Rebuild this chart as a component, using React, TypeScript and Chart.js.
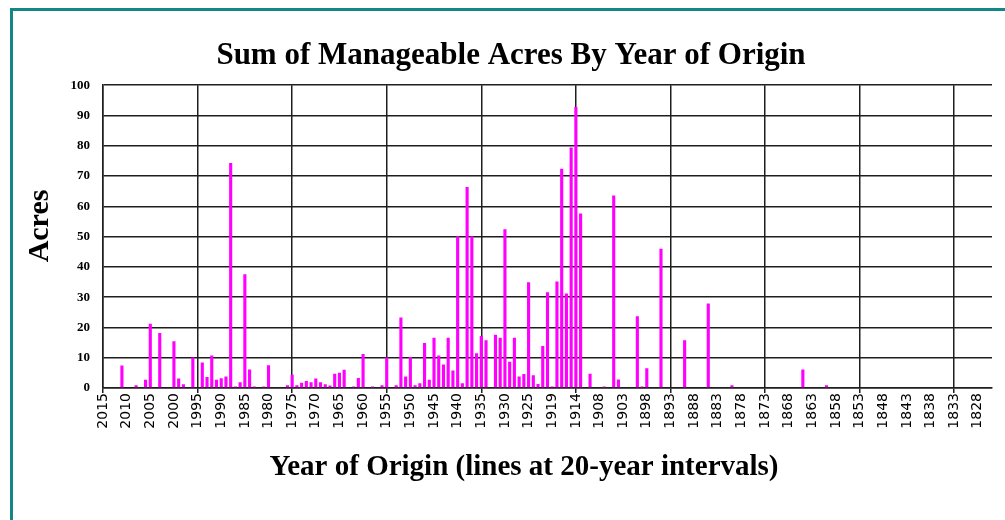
import React, { useEffect, useRef } from "react";
import { Chart, registerables } from "chart.js";

Chart.register(...registerables);

const TITLE = "Sum of Manageable Acres By Year of Origin";
const X_TITLE = "Year of Origin (lines at 20-year intervals)";
const Y_TITLE = "Acres";

// Category axis: years from newest to oldest (years with no category are listed separately)
const FIRST_YEAR = 2015;
const LAST_YEAR = 1825;
const MISSING_YEARS = [1920, 1909];

// Bars (years that have a value)
const BAR_YEARS = [
  2011, 2008, 2006, 2005, 2003, 2000, 1999, 1998, 1996, 1994,
  1993, 1992, 1991, 1990, 1989, 1988, 1987, 1986, 1985, 1984,
  1983, 1981, 1980, 1976, 1975, 1974, 1973, 1972, 1971, 1970,
  1969, 1968, 1967, 1966, 1965, 1964, 1962, 1961, 1960, 1958,
  1956, 1955, 1953, 1952, 1951, 1950, 1949, 1948, 1947, 1946,
  1945, 1944, 1943, 1942, 1941, 1940, 1939, 1938, 1937, 1936,
  1935, 1934, 1932, 1931, 1930, 1929, 1928, 1927, 1926, 1925,
  1924, 1923, 1922, 1921, 1919, 1918, 1917, 1916, 1915, 1914,
  1913, 1911, 1907, 1905, 1904, 1900, 1899, 1898, 1895, 1890,
  1885, 1880, 1865, 1860,
];
const BAR_VALUES = [
  7.4, 0.9, 2.7, 21.2, 18.2, 15.4, 3.1, 1.2, 10.1, 8.4,
  3.6, 10.7, 2.7, 3.2, 3.8, 74.3, 0.5, 1.9, 37.6, 6.1,
  0.5, 0.5, 7.5, 0.9, 4.4, 0.9, 1.7, 2.3, 1.9, 3.1,
  1.9, 1.2, 0.8, 4.7, 5.0, 6.0, 0.5, 3.3, 11.2, 0.5,
  0.9, 10.1, 0.9, 23.3, 3.8, 10.2, 0.9, 1.6, 14.9, 2.7,
  16.6, 10.7, 7.8, 16.6, 5.8, 50.1, 1.6, 66.4, 50.1, 11.5,
  17.2, 15.8, 17.6, 16.6, 52.4, 8.7, 16.6, 3.8, 4.6, 34.9,
  4.2, 1.3, 13.9, 31.6, 0.5, 35.2, 72.4, 31.2, 79.4, 92.8,
  57.6, 4.7, 0.5, 63.6, 2.8, 23.7, 0.5, 6.5, 46.0, 15.8,
  27.9, 0.9, 6.1, 0.9,
];

const Y_MIN = 0;
const Y_MAX = 100;
const Y_STEP = 10;
const LABEL_EVERY = 5;
const GRID_EVERY = 20;

const YEARS: number[] = [];
for (let y = FIRST_YEAR; y >= LAST_YEAR; y--) {
  if (!MISSING_YEARS.includes(y)) YEARS.push(y);
}
const VALUES = YEARS.map((y) => {
  const i = BAR_YEARS.indexOf(y);
  return i >= 0 ? BAR_VALUES[i] : null;
});

const SERIF = "'Liberation Serif', 'Times New Roman', serif";

const axisTitlesPlugin = {
  id: "axisTitlesText",
  afterDraw(chart: any) {
    const { ctx } = chart;
    ctx.save();
    ctx.fillStyle = "#000";
    ctx.textAlign = "center";
    ctx.textBaseline = "middle";
    ctx.font = `bold 29px ${SERIF}`;
    ctx.fillText(X_TITLE, 524, 468);
    ctx.translate(40, 226);
    ctx.rotate(-Math.PI / 2);
    ctx.font = `bold 30px ${SERIF}`;
    ctx.fillText(Y_TITLE, 0, 0);
    ctx.restore();
  },
};

export default function App() {
  const ref = useRef<HTMLCanvasElement | null>(null);

  useEffect(() => {
    if (!ref.current) return;
    const gridCol = (ctx: any) =>
      ctx.index % GRID_EVERY === 0 ? "#1e1e1e" : "rgba(0,0,0,0)";
    const chart = new Chart(ref.current, {
      type: "bar",
      data: {
        labels: YEARS.map(String),
        datasets: [
          {
            data: VALUES as any,
            backgroundColor: "#FF00FF",
            borderWidth: 0,
            barPercentage: 0.66,
            categoryPercentage: 1,
          },
        ],
      },
      plugins: [axisTitlesPlugin],
      options: {
        animation: false,
        responsive: false,
        maintainAspectRatio: false,
        layout: { padding: { left: 30, right: 13, top: 0, bottom: 0 } },
        plugins: {
          legend: { display: false },
          tooltip: { enabled: false },
          title: {
            display: true,
            text: TITLE,
            color: "#000",
            font: { family: SERIF, size: 31, weight: "bold" },
            padding: { top: 37, bottom: 11 },
          },
        },
        scales: {
          x: {
            type: "category",
            offset: false,
            grid: {
              offset: false,
              color: gridCol,
              tickColor: gridCol,
              lineWidth: 1.5,
              tickLength: 5,
              drawTicks: true,
            },
            border: { display: true, color: "#1e1e1e", width: 1.5 },
            ticks: {
              autoSkip: false,
              minRotation: 90,
              maxRotation: 90,
              padding: 0,
              color: "#000",
              font: { family: "'DejaVu Sans', Verdana, sans-serif", size: 14 },
              callback: (_v: any, i: number) =>
                i % LABEL_EVERY === 0 ? String(YEARS[i]) : "",
            },
            title: { display: false },
            afterFit: (s: any) => {
              s.height = 132;
              s.paddingLeft = 0;
              s.paddingRight = 0;
            },
          },
          y: {
            min: Y_MIN,
            max: Y_MAX,
            grid: { color: "#1e1e1e", lineWidth: 1.5, drawTicks: false },
            border: { display: true, color: "#1e1e1e", width: 1.5 },
            ticks: {
              stepSize: Y_STEP,
              padding: 13,
              color: "#000",
              font: { family: SERIF, size: 13, weight: "bold" },
            },
            title: { display: false },
            afterFit: (s: any) => {
              s.width = 73;
            },
          },
        },
      },
    });
    return () => chart.destroy();
  }, []);

  return (
    <div style={{ position: "fixed", left: 0, top: 0, width: 1005, height: 520, background: "#fff" }}>
      <canvas ref={ref} width={1005} height={520} style={{ display: "block" }} />
      <div
        style={{
          position: "absolute",
          left: 10,
          top: 8,
          width: 995,
          height: 512,
          boxSizing: "border-box",
          borderLeft: "3px solid #138686",
          borderTop: "3px solid #138686",
          pointerEvents: "none",
        }}
      />
    </div>
  );
}
